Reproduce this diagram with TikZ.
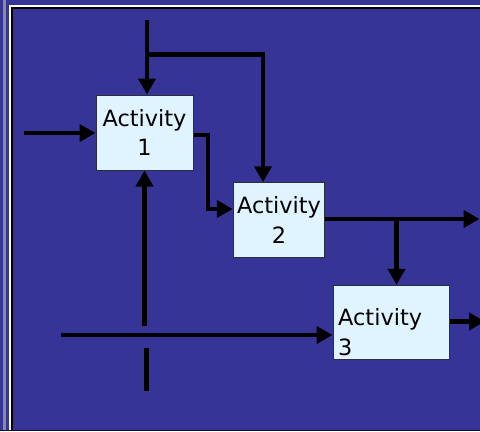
\documentclass[tikz,border=0pt]{standalone}
\usepackage{fontspec}
\setmainfont{DejaVu Sans}
\usetikzlibrary{arrows.meta}
\definecolor{bg}{RGB}{54,53,151}
\definecolor{boxfill}{RGB}{224,244,255}
\definecolor{boxline}{RGB}{45,45,60}
\definecolor{framegray}{RGB}{140,140,150}
\begin{document}
\begin{tikzpicture}[x=1bp,y=-1bp,
  box/.style={draw=boxline, line width=1bp, fill=boxfill, inner sep=0pt,
    font=\fontsize{22.5}{30}\selectfont, align=center},
  boxtext/.style={inner sep=0pt, font=\fontsize{22.5}{30}\selectfont, align=left},
  flow/.style={line width=4.5bp, -{Triangle[length=16bp,width=17bp]}},
  plainline/.style={line width=4.5bp}]
\useasboundingbox (0,0) rectangle (480,431);
% background and frame
\fill[bg] (0,0) rectangle (480,431);
\fill[framegray] (3,0) rectangle (6,431);
\fill[white] (9,5) rectangle (11,431);
\fill[white] (9,5) rectangle (480,7);
\fill[black] (11,7) rectangle (12.5,431);
\fill[black] (11,7) rectangle (480,8.5);
\fill[black!70!bg] (0,430) rectangle (480,431);
% boxes
\node[box, minimum width=97bp, minimum height=75bp] (a1) at (144.5,132.5) {Activity\\1};
\node[box, minimum width=91.5bp, minimum height=74.5bp] (a2) at (279,220) {Activity\\2};
\node[box, minimum width=116bp, minimum height=74bp] (a3) at (391,322.3) {};
\node[boxtext, anchor=west] (t3) at (338,332) {Activity\\3};
% coordinates
\coordinate (c1top) at (147,20);
\coordinate (j1) at (147,54.5);
\coordinate (c2x) at (263,0);
\coordinate (in1) at (24,133);
\coordinate (k1) at (208,135);
\coordinate (k2) at (208,209);
\coordinate (out2) at (479.5,219);
\coordinate (j2) at (396.5,219);
\coordinate (out3) at (485,321.5);
\coordinate (in3) at (61,335);
\coordinate (ctl) at (144.5,325.5);
\coordinate (s1) at (146.5,348);
\coordinate (s2) at (146.5,390.5);
% connectors
\draw[flow] (c1top) -- (c1top |- a1.north);
\draw[flow] (j1) -| (c2x |- a2.north);
\draw[flow] (in1) -- (in1 -| a1.west);
\draw[flow] (k1 -| a1.east) -- (k1) -- (k2) -- (k2 -| a2.west);
\draw[flow] (out2 -| a2.east) -- (out2);
\draw[flow] (j2) -- (j2 |- a3.north);
\draw[flow] (out3 -| a3.east) -- (out3);
\draw[flow] (in3) -- (in3 -| a3.west);
\draw[flow] (ctl) -- (ctl |- a1.south);
\draw[plainline] (s1) -- (s2);
\end{tikzpicture}
\end{document}
